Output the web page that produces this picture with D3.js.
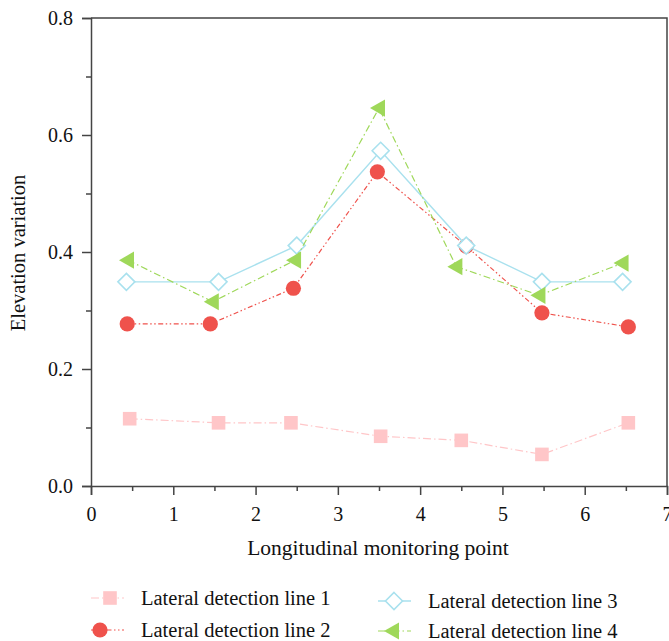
<!DOCTYPE html>
<html>
<head>
<meta charset="utf-8">
<script src="https://cdn.jsdelivr.net/npm/d3@7"></script>
<style>
  html, body { margin: 0; padding: 0; background: #fff; }
  svg { display: block; }
  text { font-family: "Liberation Serif", "DejaVu Serif", serif; fill: #111; }
</style>
</head>
<body>
<svg id="chart" width="669" height="641"></svg>
<script>
// Elevation variation per lateral detection line at each longitudinal monitoring point
const seriesNames = ["Lateral detection line 1", "Lateral detection line 2", "Lateral detection line 3", "Lateral detection line 4"];
const line1X = [0.47, 1.55, 2.43, 3.52, 4.50, 5.48, 6.53];
const line1Y = [0.115, 0.108, 0.108, 0.085, 0.078, 0.054, 0.108];
const line2X = [0.44, 1.45, 2.46, 3.48, 4.56, 5.48, 6.53];
const line2Y = [0.277, 0.277, 0.338, 0.537, 0.410, 0.296, 0.272];
const line3X = [0.43, 1.55, 2.50, 3.52, 4.56, 5.48, 6.46];
const line3Y = [0.349, 0.349, 0.411, 0.573, 0.411, 0.349, 0.349];
const line4X = [0.45, 1.48, 2.48, 3.50, 4.44, 5.45, 6.46];
const line4Y = [0.386, 0.315, 0.386, 0.646, 0.375, 0.326, 0.381];
const xTicks = [0, 1, 2, 3, 4, 5, 6, 7];
const yTicks = [0.0, 0.2, 0.4, 0.6, 0.8];
const xTitle = "Longitudinal monitoring point";
const yTitle = "Elevation variation";

const svg = d3.select("#chart");
const margin = { left: 91, right: 2, top: 18, bottom: 155 };
const W = 669, H = 641;
const x = d3.scaleLinear().domain([0, 7]).range([margin.left, W - margin.right]);
const y = d3.scaleLinear().domain([0, 0.8]).range([H - margin.bottom, margin.top]);

const axisColor = "#444";
const serif = "'Liberation Serif', 'DejaVu Serif', serif";

// Frame (top and right edges)
svg.append("path")
  .attr("d", `M${x(0)},${y(0.8)}H${x(7)}V${y(0)}`)
  .attr("fill", "none").attr("stroke", axisColor).attr("stroke-width", 1.5);

// Minor ticks sit halfway between the labelled ones
const xMinor = d3.range(0.5, 7, 1);
const yMinor = [0.1, 0.3, 0.5, 0.7];

svg.append("g").attr("transform", `translate(0,${y(0)})`)
  .call(d3.axisBottom(x).tickValues(xTicks).tickFormat(d3.format("d")).tickSize(9).tickPadding(12));
svg.append("g").attr("transform", `translate(0,${y(0)})`)
  .call(d3.axisBottom(x).tickValues(xMinor).tickFormat("").tickSize(5))
  .call(g => g.select(".domain").remove());

svg.append("g").attr("transform", `translate(${x(0)},0)`)
  .call(d3.axisLeft(y).tickValues(yTicks).tickFormat(d3.format(".1f")).tickSize(9).tickPadding(9));
svg.append("g").attr("transform", `translate(${x(0)},0)`)
  .call(d3.axisLeft(y).tickValues(yMinor).tickFormat("").tickSize(5))
  .call(g => g.select(".domain").remove());

svg.selectAll(".domain").attr("stroke", axisColor).attr("stroke-width", 1.5);
svg.selectAll(".tick line").attr("stroke", axisColor).attr("stroke-width", 1.5);
svg.selectAll(".tick text")
  .style("font-family", serif)
  .style("font-size", "20px").attr("fill", "#111");

// Axis titles
svg.append("text").attr("x", (x(0) + x(7)) / 2 - 1).attr("y", 555)
  .attr("text-anchor", "middle").style("font-size", "21.5px").text(xTitle);
svg.append("text").attr("transform", `translate(25,${y(0.4) + 1}) rotate(-90)`)
  .attr("text-anchor", "middle").style("font-size", "20.5px").text(yTitle);

// Series styling
const styles = [
  { color: "#ffc6c8", dash: "8,3,1.5,3", width: 1.2, marker: "square" },
  { color: "#ef524c", dash: "5,2.5,1.5,2.5,1.5,2.5", width: 1.2, marker: "circle" },
  { color: "#a9e1ee", dash: null, width: 1.4, marker: "diamond" },
  { color: "#9fd85a", dash: "7,3,1.5,3", width: 1.2, marker: "triangle" }
];
const seriesData = [
  d3.zip(line1X, line1Y),
  d3.zip(line2X, line2Y),
  d3.zip(line3X, line3Y),
  d3.zip(line4X, line4Y)
];

function drawMarker(g, type, color) {
  if (type === "square") {
    g.append("rect").attr("x", -6.8).attr("y", -6.8).attr("width", 13.6).attr("height", 13.6)
      .attr("fill", color);
  } else if (type === "circle") {
    g.append("circle").attr("r", 7.6).attr("fill", color);
  } else if (type === "diamond") {
    g.append("path").attr("d", "M0,-8.5L8.5,0L0,8.5L-8.5,0Z")
      .attr("fill", "#fff").attr("stroke", color).attr("stroke-width", 1.6);
  } else if (type === "triangle") {
    g.append("path").attr("d", "M-9,0L6,-8.6L6,8.6Z").attr("fill", color);
  }
}

const lineGen = d3.line().x(d => x(d[0])).y(d => y(d[1]));
seriesData.forEach((data, i) => {
  const s = styles[i];
  const g = svg.append("g");
  g.append("path").datum(data).attr("d", lineGen)
    .attr("fill", "none").attr("stroke", s.color).attr("stroke-width", s.width)
    .attr("stroke-dasharray", s.dash);
  g.selectAll("g.pt").data(data).join("g").attr("class", "pt")
    .attr("transform", d => `translate(${x(d[0])},${y(d[1])})`)
    .each(function () { drawMarker(d3.select(this), s.marker, s.color); });
});

// Legend: two columns, two rows
const legendPos = [
  { lx: 91, lw: 33, mx: 110, ly: 598, tx: 141 },
  { lx: 91, lw: 33, mx: 100, ly: 630, tx: 141 },
  { lx: 378, lw: 33, mx: 394, ly: 601, tx: 428 },
  { lx: 378, lw: 33, mx: 393, ly: 631, tx: 428 }
];
legendPos.forEach((p, i) => {
  const s = styles[i];
  const g = svg.append("g");
  g.append("line").attr("x1", p.lx).attr("x2", p.lx + p.lw).attr("y1", p.ly).attr("y2", p.ly)
    .attr("stroke", s.color).attr("stroke-width", s.width).attr("stroke-dasharray", s.dash);
  drawMarker(g.append("g").attr("transform", `translate(${p.mx},${p.ly})`), s.marker, s.color);
  g.append("text").attr("x", p.tx).attr("y", p.ly).attr("dy", "0.33em")
    .style("font-size", "20.5px").text(seriesNames[i]);
});
</script>
</body>
</html>
